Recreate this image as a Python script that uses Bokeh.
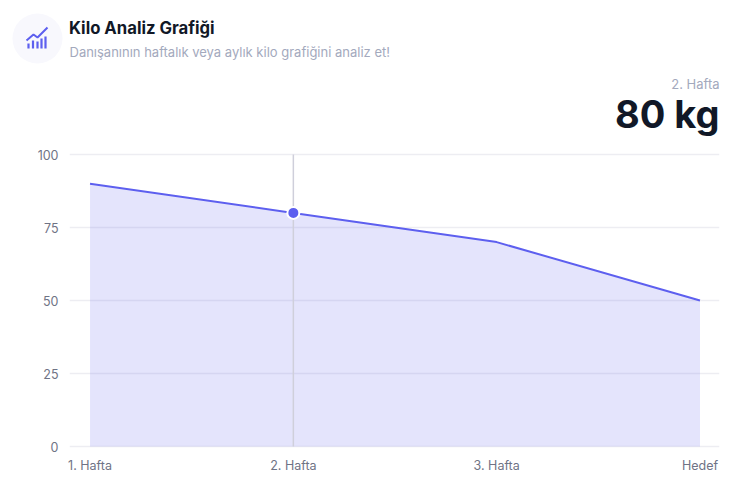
from bokeh.plotting import figure
from bokeh.layouts import column
from bokeh.embed import file_html
from bokeh.resources import INLINE
from bokeh.core.properties import value
from bokeh.models import Range1d, FixedTicker

weeks = ["1. Hafta", "2. Hafta", "3. Hafta", "Hedef"]
kilos = [90, 80, 70, 50]
y_ticks = [0, 25, 50, 75, 100]
selected = 1
title = "Kilo Analiz Grafiği"
subtitle = "Danışanının haftalık veya aylık kilo grafiğini analiz et!"
FONT = "Inter"
INDIGO = "#5d5fef"

W = 742
HEAD_H = 148
x = list(range(len(weeks)))

# ---- header: one data unit is one pixel of the page
h = figure(width=W, height=HEAD_H, output_backend="svg", toolbar_location=None,
           x_range=Range1d(0, W), y_range=Range1d(HEAD_H, 0), min_border=0,
           x_axis_location=None, y_axis_location=None, frame_align=False)
h.grid.visible = False
h.outline_line_color = None


def text(px, py, s, size, color, style="normal", align="left"):
    h.text(x=[px], y=[py], text=[s], text_font=value(FONT), text_font_size=f"{size}px",
           text_color=color, text_font_style=style, text_align=align,
           text_baseline="middle")


h.ellipse(x=[37], y=[38], width=50, height=50, fill_color="#f8f8fd", line_color=None)
h.vbar(x=[28, 32.5, 37, 41, 45], width=2.2, top=[43, 40, 41, 38, 36], bottom=48,
       fill_color=INDIGO, line_color=None)
h.line(x=[26, 33, 37, 47], y=[40, 34, 37, 27], line_color=INDIGO, line_width=2)
text(68.5, 27.5, title, 16.7, "#111827", "bold")
text(69, 51, subtitle, 13, "#a3a9bd")
text(719, 83, f"{selected + 1}. Hafta", 13, "#a3a9bd", align="right")
text(719, 113.5, f"{kilos[selected]} kg", 38, "#111827", "bold", align="right")

# ---- chart
p = figure(width=W, height=335, output_backend="svg", toolbar_location=None,
           x_range=Range1d(-0.101, 3.096), y_range=Range1d(-1.027, 102.055),
           min_border_left=69, min_border_right=23, min_border_top=0, min_border_bottom=34,
           frame_align=False)
p.outline_line_color = None
p.xgrid.visible = False
p.ygrid.grid_line_color = "#ededf2"
p.ygrid.grid_line_width = 1.5
p.ygrid.ticker = FixedTicker(ticks=y_ticks)

for ax in (p.xaxis[0], p.yaxis[0]):
    ax.axis_line_color = None
    ax.major_tick_line_color = None
    ax.minor_tick_line_color = None
    ax.major_label_text_font = FONT
    ax.major_label_text_font_size = "12.5px"
    ax.major_label_text_color = "#6f7385"
p.xaxis[0].ticker = FixedTicker(ticks=x)
p.xaxis[0].major_label_overrides = {i: w for i, w in enumerate(weeks)}
p.xaxis[0].major_label_standoff = 2
p.yaxis[0].ticker = FixedTicker(ticks=y_ticks)
p.yaxis[0].major_label_standoff = 5

p.varea(x=x, y1=[0] * len(x), y2=kilos, fill_color=INDIGO, fill_alpha=0.17)
p.line(x=x, y=kilos, line_color=INDIGO, line_width=2)
p.segment(x0=[selected], x1=[selected], y0=[0], y1=[100], line_color="#cfcfdb", line_width=1.5)
p.scatter(x=[selected], y=[kilos[selected]], size=12, fill_color=INDIGO,
          line_color="white", line_width=2)

open("out.html", "w").write(file_html(column(h, p, spacing=0), INLINE))
